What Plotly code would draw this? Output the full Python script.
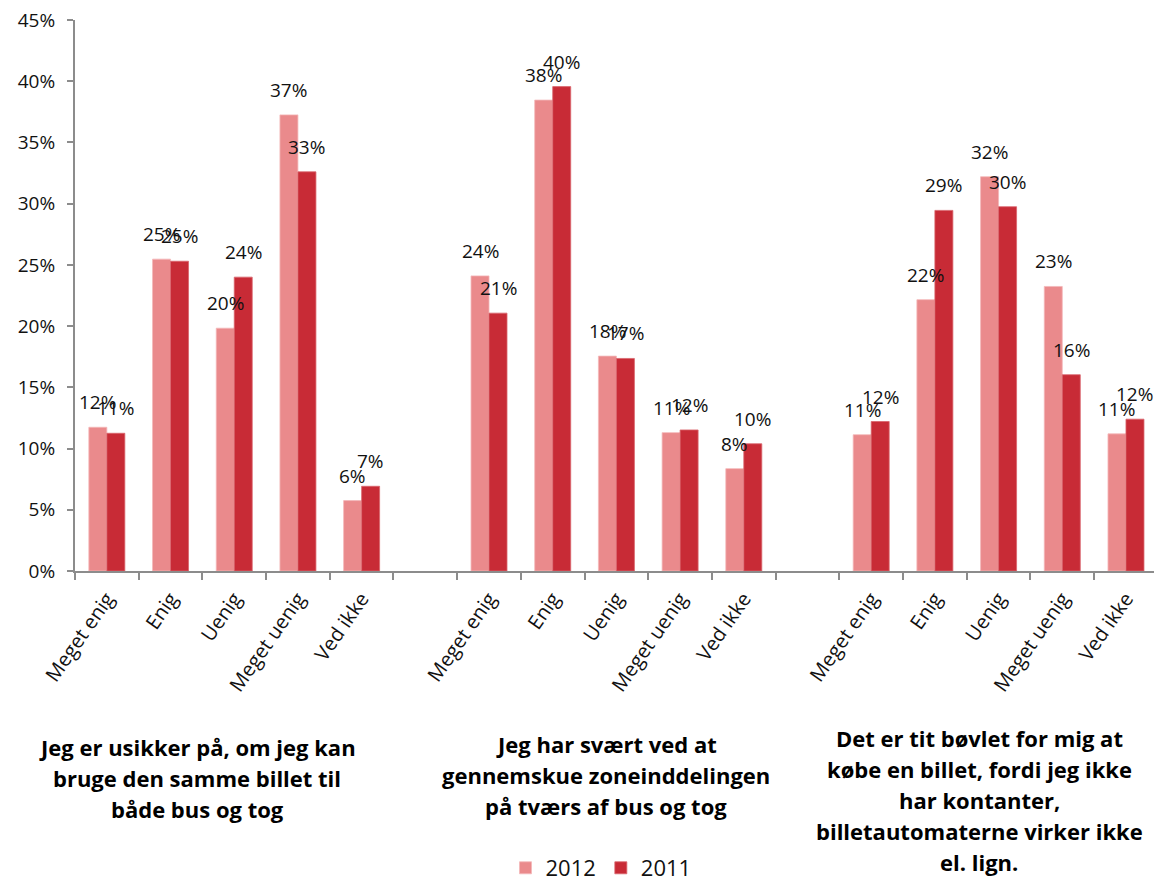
import plotly.graph_objects as go

# Answer categories per statement, with empty spacer slots between statements
answers = ["Meget enig", "Enig", "Uenig", "Meget uenig", "Ved ikke"]

share_2012 = [
    [11.74, 25.47, 19.83, 37.25, 5.75],
    [24.10, 38.46, 17.55, 11.30, 8.36],
    [11.13, 22.16, 32.20, 23.24, 11.20],
]
share_2011 = [
    [11.25, 25.30, 24.00, 32.60, 6.92],
    [21.06, 39.56, 17.36, 11.52, 10.39],
    [12.21, 29.45, 29.75, 16.03, 12.40],
]

statements = [
    ["Jeg er usikker på, om jeg kan", "bruge den samme billet til", "både bus og tog"],
    ["Jeg har svært ved at", "gennemskue zoneinddelingen", "på tværs af bus og tog"],
    ["Det er tit bøvlet for mig at", "købe en billet, fordi jeg ikke", "har kontanter,",
     "billetautomaterne virker ikke", "el. lign."],
]

y_ticks = [0, 5, 10, 15, 20, 25, 30, 35, 40, 45]

COL_2012 = "#EA8A8C"
COL_2011 = "#C82B36"
AXIS_COL = "#8C8C8C"
FONT = "Open Sans"

# Build the category sequence; zero-width spaces keep repeated names unique
cats, v12, v11 = [], [], []
for g in range(3):
    for a in answers:
        cats.append(a + "\u200b" * g)
    v12 += share_2012[g]
    v11 += share_2011[g]
    if g < 2:
        cats.append("\u200b" * (10 + g))
        v12.append(None)
        v11.append(None)

W, H = 1154, 881
ML, MR, MT, MB = 75, 0, 20, 310
x_range = [-0.5, 16.44]
bargap = 0.435

fig = go.Figure()
fig.add_bar(name="2012", x=cats, y=v12, marker=dict(color=COL_2012, line=dict(width=0.8, color="#F4B8B9")))
fig.add_bar(name="2011", x=cats, y=v11, marker=dict(color=COL_2011, line=dict(width=0.8, color="#D9656C")))

# Value labels above each bar
plot_w = W - ML - MR
slot_px = plot_w / (x_range[1] - x_range[0])
half_bar = slot_px * (1 - bargap) / 4
for vals, dx in ((v12, -half_bar), (v11, half_bar)):
    for c, v in zip(cats, vals):
        if v is None:
            continue
        fig.add_annotation(x=c, y=v, text=f"{round(v):d}%", showarrow=False,
                           xshift=dx, yshift=25, yanchor="middle",
                           font=dict(family=FONT, size=19, color="#111111"))

# Statement captions under each group
plot_h = H - MT - MB
caption_x = [1.42, 7.84, 13.70]
caption_mid_px = [778, 775, 800]
line_gap = 31
for lines, cx, mid in zip(statements, caption_x, caption_mid_px):
    n = len(lines)
    for i, line in enumerate(lines):
        ypx = mid + (i - (n - 1) / 2) * line_gap
        fig.add_annotation(x=cx, xref="x", y=(H - MB - ypx) / plot_h, yref="paper",
                           text=f"<b>{line}</b>", showarrow=False,
                           xanchor="center", yanchor="middle",
                           font=dict(family=FONT, size=22, color="#000000"))

fig.update_layout(
    width=W, height=H,
    margin=dict(l=ML, r=MR, t=MT, b=MB, autoexpand=False),
    paper_bgcolor="white", plot_bgcolor="white",
    barmode="group", bargap=bargap, bargroupgap=0,
    font=dict(family=FONT, size=19, color="#111111"),
    showlegend=True,
    legend=dict(orientation="h", x=(601 - ML) / plot_w, xanchor="center",
                y=(H - MB - 868) / plot_h, yanchor="middle",
                font=dict(family=FONT, size=22, color="#111111"),
                itemwidth=30, traceorder="normal"),
    xaxis=dict(type="category", categoryorder="array", categoryarray=cats,
               range=x_range, showline=True, linecolor=AXIS_COL, linewidth=2,
               ticks="outside", tickson="boundaries", ticklen=7, tickcolor=AXIS_COL,
               tickwidth=2, tickangle=-55, showgrid=False, zeroline=False,
               ticklabelstandoff=6, automargin=False,
               tickfont=dict(family=FONT, size=20, color="#111111")),
    yaxis=dict(range=[0, 45], tickvals=y_ticks, ticktext=[f"{t}%" for t in y_ticks],
               showline=True, linecolor=AXIS_COL, linewidth=2,
               ticks="outside", ticklen=6, tickcolor=AXIS_COL, tickwidth=2,
               showgrid=False, zeroline=False, ticklabelstandoff=8, automargin=False,
               tickfont=dict(family=FONT, size=19, color="#111111")),
)

fig.write_html("out.html")
